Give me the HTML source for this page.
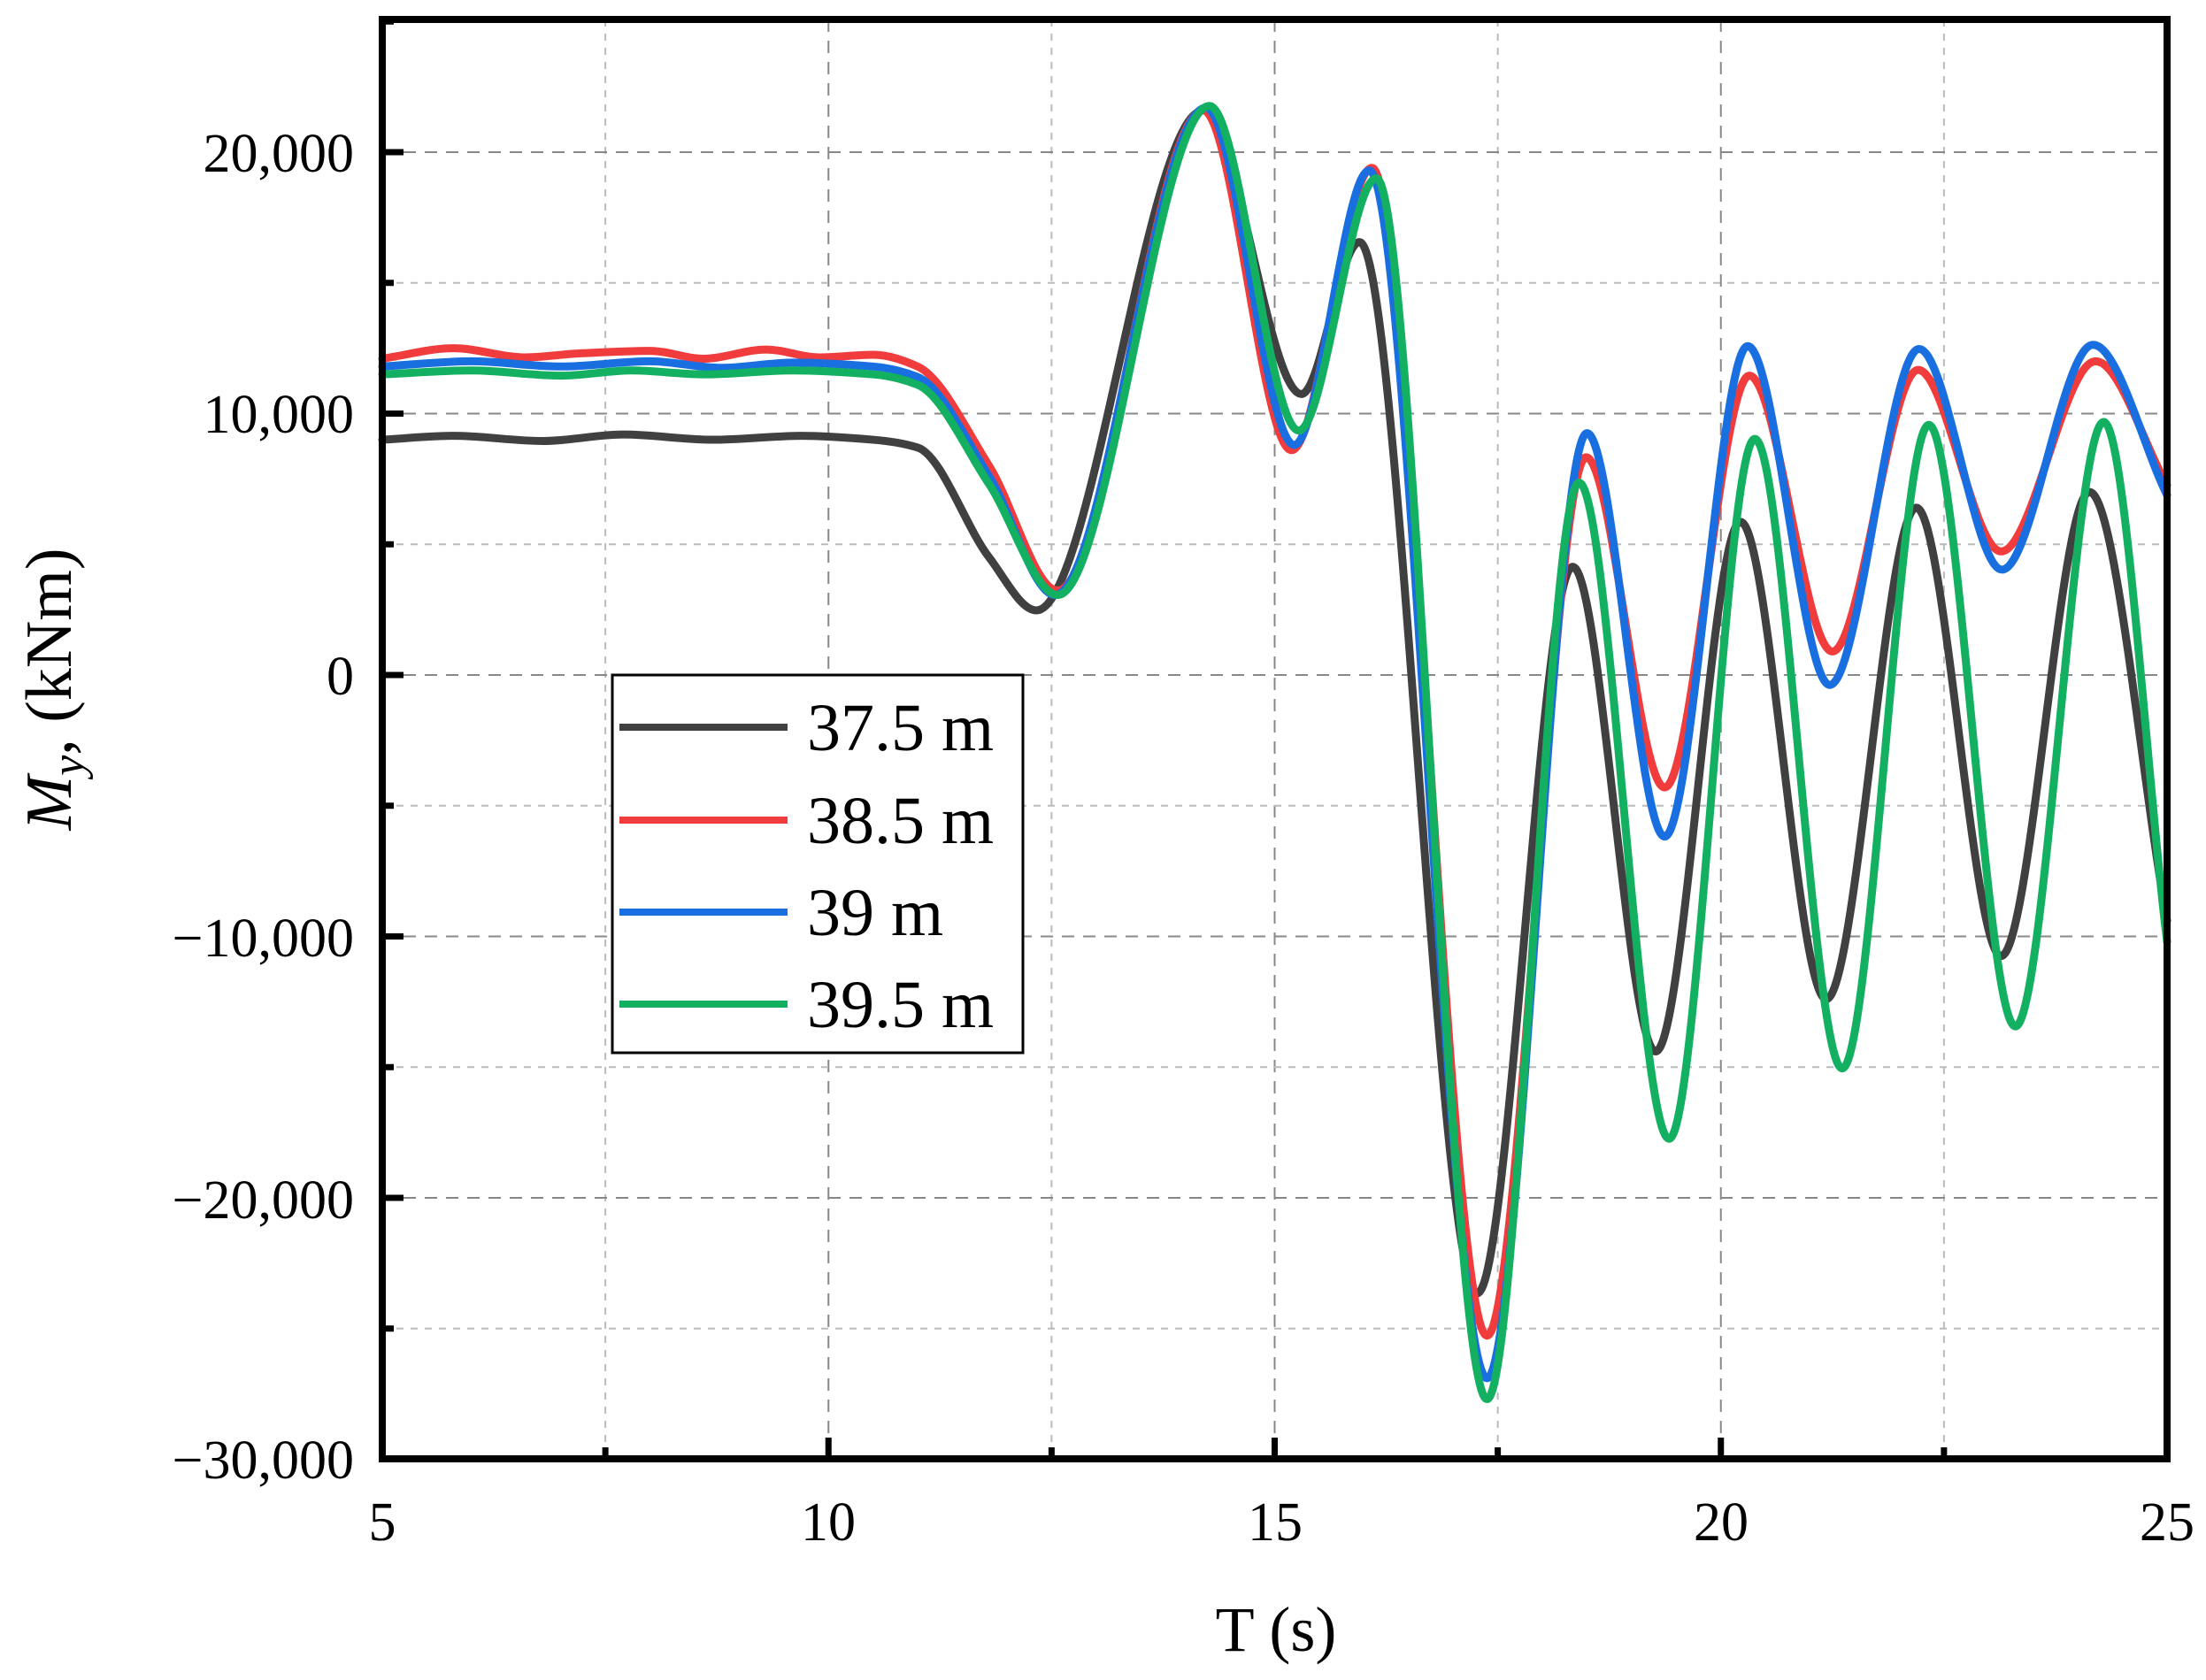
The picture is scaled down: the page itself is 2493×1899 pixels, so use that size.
<!DOCTYPE html>
<html><head><meta charset="utf-8"><style>html,body{margin:0;padding:0;background:#fff}svg{display:block}</style></head>
<body>
<svg id="s" width="2493" height="1899" viewBox="0 0 2493 1899" xmlns="http://www.w3.org/2000/svg" font-family="Liberation Serif, serif">
<rect width="2493" height="1899" fill="#fff"/>
<g id="grid"></g>
<g id="curves" fill="none" stroke-width="9" stroke-linejoin="round" stroke-linecap="round"></g>
<rect x="432" y="22" width="2017" height="1627" fill="none" stroke="#000" stroke-width="8"/>
<g id="ticks" stroke="#000" stroke-width="7"></g>
<g font-size="62" fill="#000" text-anchor="end">
<text x="400" y="194">20,000</text>
<text x="400" y="489">10,000</text>
<text x="400" y="785">0</text>
<text x="400" y="1081">−10,000</text>
<text x="400" y="1377">−20,000</text>
<text x="400" y="1671">−30,000</text>
</g>
<g font-size="62" fill="#000" text-anchor="middle">
<text x="432" y="1741">5</text>
<text x="936" y="1741">10</text>
<text x="1441" y="1741">15</text>
<text x="1945" y="1741">20</text>
<text x="2449" y="1741">25</text>
</g>
<text x="1442" y="1866" font-size="72" text-anchor="middle">T (s)</text>
<text transform="translate(80,779) rotate(-90)" font-size="74" text-anchor="middle"><tspan font-style="italic">M</tspan><tspan font-style="italic" font-size="52" dy="14">y</tspan><tspan dy="-14">, (kNm)</tspan></text>
<rect x="692" y="763" width="464" height="427" fill="#fff" stroke="#000" stroke-width="3"/>
<g stroke-width="8">
<line x1="700" y1="822" x2="890" y2="822" stroke="#404040"/>
<line x1="700" y1="927" x2="890" y2="927" stroke="#f03c3c"/>
<line x1="700" y1="1031" x2="890" y2="1031" stroke="#1a6fe0"/>
<line x1="700" y1="1135" x2="890" y2="1135" stroke="#14b061"/>
</g>
<g font-size="76" fill="#000">
<text x="912" y="848">37.5 m</text>
<text x="912" y="953">38.5 m</text>
<text x="912" y="1057">39 m</text>
<text x="912" y="1161">39.5 m</text>
</g>
</svg>
<script>
const X=t=>432+(t-5)*100.85, Y=m=>763-m*0.02955;
const NS="http://www.w3.org/2000/svg";
function el(p,tag,a){const e=document.createElementNS(NS,tag);for(const k in a)e.setAttribute(k,a[k]);p.appendChild(e);return e;}
const g=document.getElementById('grid'),tk=document.getElementById('ticks');
for(let t=7.5;t<25;t+=2.5){const maj=(t%5===0);
 el(g,'line',{x1:X(t),x2:X(t),y1:22,y2:1649,stroke:maj?'#888':'#bbb','stroke-width':2,'stroke-dasharray':maj?'14 10':'8 8'});
 el(tk,'line',{x1:X(t),x2:X(t),y1:1649,y2:maj?1625:1636});}
for(let m=-25000;m<=25000;m+=5000){const maj=(m%10000===0);
 if(m!==25000) el(g,'line',{x1:432,x2:2449,y1:Y(m),y2:Y(m),stroke:maj?'#888':'#bbb','stroke-width':2,'stroke-dasharray':maj?'14 10':'8 8'});
 el(tk,'line',{x1:432,x2:maj?456:445,y1:Y(m),y2:Y(m)});}
const S={
'#404040':[[5,9000],[5.8,9150],[6.8,8950],[7.7,9200],[8.7,9000],[9.7,9150],[10.5,9000],[11,8700],[11.8,4500],[12.33,2470],[14.2,21600],[15.3,10750],[15.95,16560],[17.27,-23650],[18.34,4140],[19.27,-14400],[20.22,5860],[21.18,-12400],[22.19,6400],[23.14,-10750],[24.13,7000],[25,-9400]],
'#f03c3c':[[5,12100],[5.8,12500],[6.6,12150],[7.2,12300],[8,12400],[8.6,12100],[9.3,12450],[9.9,12150],[10.5,12250],[11,11800],[11.8,8000],[12.57,3230],[14.2,21600],[15.19,8600],[16.09,19400],[17.38,-25270],[18.49,8330],[19.37,-4300],[20.32,11450],[21.25,900],[22.21,11670],[23.14,4730],[24.2,12000],[25,7260]],
'#1a6fe0':[[5,11800],[6,12000],[7,11800],[8,12000],[8.8,11750],[9.6,11950],[10.5,11800],[11,11400],[11.8,7600],[12.54,3060],[14.23,21700],[15.22,8800],[16.06,19300],[17.38,-26900],[18.5,9250],[19.37,-6180],[20.3,12580],[21.22,-380],[22.22,12470],[23.15,4030],[24.17,12630],[25,6880]],
'#14b061':[[5,11500],[6,11650],[7,11450],[7.8,11650],[8.6,11500],[9.6,11650],[10.5,11500],[11,11100],[11.8,7300],[12.57,3060],[14.27,21770],[15.27,9350],[16.14,19000],[17.38,-27700],[18.41,7360],[19.42,-17740],[20.38,9030],[21.36,-15050],[22.33,9570],[23.3,-13440],[24.29,9680],[25,-10200]]};
function mono(p){const n=p.length,d=[],m=[];for(let i=0;i<n-1;i++)d.push((p[i+1][1]-p[i][1])/(p[i+1][0]-p[i][0]));
 m[0]=d[0];m[n-1]=d[n-2];for(let i=1;i<n-1;i++){m[i]=(d[i-1]*d[i]<=0)?0:2*d[i-1]*d[i]/(d[i-1]+d[i]);}
 let s='';for(let i=0;i<n-1;i++){const h=p[i+1][0]-p[i][0];
  const c1=[p[i][0]+h/3,p[i][1]+m[i]*h/3],c2=[p[i+1][0]-h/3,p[i+1][1]-m[i+1]*h/3];
  if(i===0)s+='M'+X(p[0][0])+','+Y(p[0][1]);
  s+='C'+X(c1[0])+','+Y(c1[1])+' '+X(c2[0])+','+Y(c2[1])+' '+X(p[i+1][0])+','+Y(p[i+1][1]);}
 return s;}
const c=document.getElementById('curves');
for(const k in S)el(c,'path',{d:mono(S[k]),stroke:k});
</script>
</body></html>
